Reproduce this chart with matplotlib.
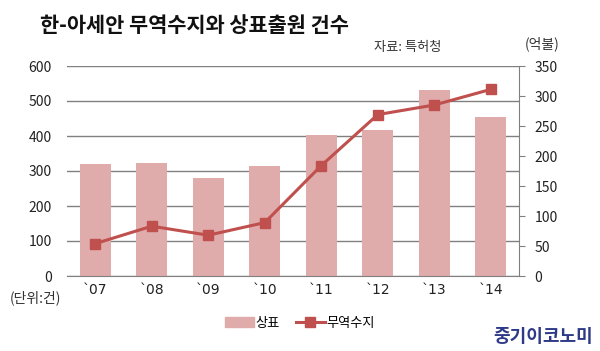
import matplotlib
matplotlib.use("Agg")
import matplotlib.pyplot as plt
import numpy as np

plt.rcParams['font.family'] = ['Noto Sans CJK KR', 'DejaVu Sans']

years = ["`07", "`08", "`09", "`10", "`11", "`12", "`13", "`14"]
trademarks = [320, 323, 280, 314, 402, 417, 531, 454]
trade_balance = [54, 83, 68, 89, 184, 269, 285, 311]

bar_color = "#e0abab"
line_color = "#c0504d"

fig = plt.figure(figsize=(6.0, 3.51), dpi=100)
ax = fig.add_axes([67/600, 1-276/351, (519-67)/600, 210/351])
x = np.arange(len(years))
ax.bar(x, trademarks, width=0.55, color=bar_color, zorder=2, label="상표")
ax.set_xlim(-0.5, len(years)-0.5)
ax.set_ylim(0, 600)
ax.set_yticks(range(0, 601, 100))
ax.yaxis.grid(True, color="#808080", linewidth=1.0, zorder=0)
ax.set_axisbelow(True)
for s in ["top", "left", "right"]:
    ax.spines[s].set_visible(False)
ax.spines["bottom"].set_color("#808080")
ax.tick_params(axis="y", length=0, pad=11, labelsize=10, colors="#222222")
ax.tick_params(axis="x", length=0, pad=5, labelsize=10.5, colors="#222222")
ax.set_xticks(x)
ax.set_xticklabels(years, family="DejaVu Sans", fontsize=10)

ax2 = ax.twinx()
ax2.plot(x, trade_balance, color=line_color, linewidth=2.2, marker="s", markersize=7, zorder=3, label="무역수지")
ax2.set_ylim(0, 350)
ax2.set_yticks(range(0, 351, 50))
for s in ["top", "left", "bottom"]:
    ax2.spines[s].set_visible(False)
ax2.spines["right"].set_color("#808080")
ax2.tick_params(axis="y", length=4, direction="out", pad=7, labelsize=10)
ax2.tick_params(axis="y", colors="#808080", labelcolor="#222222")

fig.text(40/600, 1-26/351, "한-아세안 무역수지와 상표출원 건수", fontsize=15, fontweight="bold", color="#111111", va="center", ha="left")
fig.text(374/600, 1-47/351, "자료: 특허청", fontsize=9.5, color="#333333", va="center", ha="left")
fig.text(542/600, 1-44/351, "(억불)", fontsize=10, color="#333333", va="center", ha="center")
fig.text(35/600, 1-298/351, "(단위:건)", fontsize=10, color="#333333", va="center", ha="center")

from matplotlib.patches import Patch
from matplotlib.lines import Line2D
handles = [Patch(color=bar_color, label="상표"),
           Line2D([0], [0], color=line_color, linewidth=2.2, marker="s", markersize=7, label="무역수지")]
fig.legend(handles=handles, loc="center", bbox_to_anchor=(0.5, 1-323/351), ncol=2, frameon=False,
           fontsize=9.5, handlelength=2.2, handletextpad=0.1, columnspacing=1.2)

fig.text(593/600, 1-336/351, "중기이코노미", fontsize=13, fontweight="bold", color="#2e3a87", va="center", ha="right")

fig.savefig("out.png", dpi=100)
